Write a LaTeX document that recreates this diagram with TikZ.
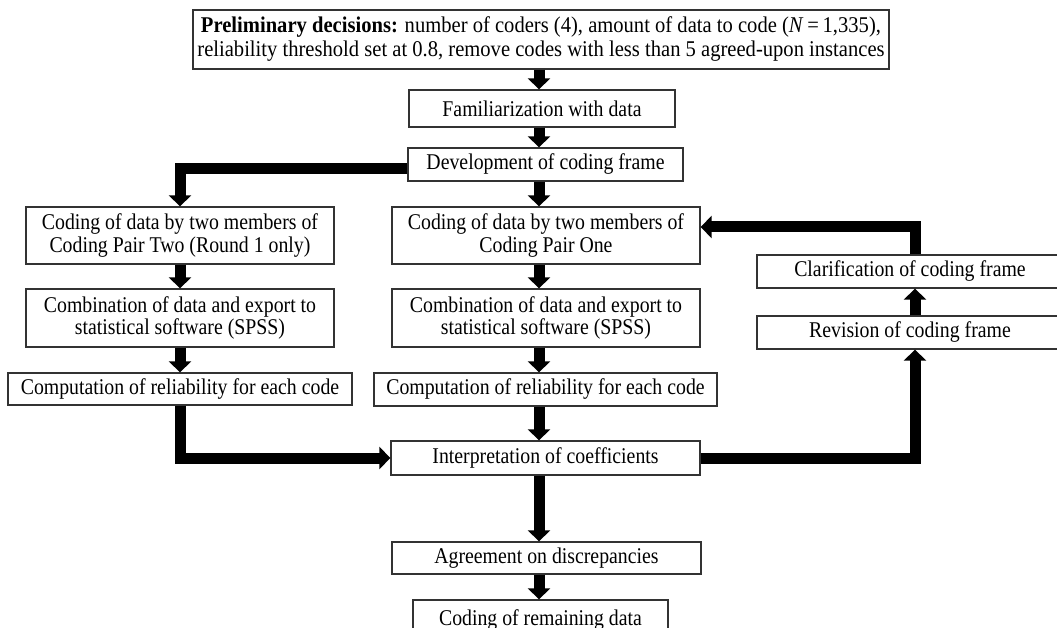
\documentclass[tikz,border=0pt]{standalone}
\usepackage{fontspec}
\setmainfont{Liberation Serif}
\newfontfamily\nf{Liberation Serif}[FakeStretch=0.88]
\newfontfamily\tf{Liberation Serif}[FakeStretch=0.915]
\usetikzlibrary{arrows.meta}
\begin{document}
\begin{tikzpicture}[x=1pt,y=-1pt,
  box/.style={draw=black!80, line width=1.3pt, fill=white, inner sep=0pt, align=center,
    font=\nf\fontsize{22.5}{22.5}\selectfont, text=black},
  arr/.style={line width=11pt, draw=black, -{Triangle[width=22pt,length=11pt]}},
]
\useasboundingbox (0,0) rectangle (1057,628);
\clip (0,0) rectangle (1057,628);
\coordinate (mx) at (539,0);
\coordinate (rx) at (915,0);

\node[box, minimum width=696pt, minimum height=59pt, font=\tf\fontsize{22.5}{24}\selectfont] (top) at (541,39.5)
  {\textbf{Preliminary decisions:} number of coders (4), amount of data to code (\textit{N}\,=\,1,335),\\
   reliability threshold set at 0.8, remove codes with less than 5 agreed-upon instances};
\node[box, minimum width=266pt, minimum height=37pt] (fam) at (542,108.5) {Familiarization with data};
\node[box, minimum width=275pt, minimum height=33pt] (dev) at (545.5,164.5) {Development of coding frame};

\node[box, minimum width=308pt, minimum height=57pt] (p2) at (180,235.5) {Coding of data by two members of\\Coding Pair Two (Round 1 only)};
\node[box, minimum width=308pt, minimum height=58pt] (c2) at (180,318) {Combination of data and export to\\statistical software (SPSS)};
\node[box, minimum width=344pt, minimum height=32pt] (r2) at (180,389) {Computation of reliability for each code};

\node[box, minimum width=308pt, minimum height=57pt] (p1) at (546,235.5) {Coding of data by two members of\\Coding Pair One};
\node[box, minimum width=308pt, minimum height=58pt] (c1) at (546,318) {Combination of data and export to\\statistical software (SPSS)};
\node[box, minimum width=343pt, minimum height=33pt] (r1) at (545.5,389.5) {Computation of reliability for each code};

\node[box, minimum width=309pt, minimum height=34pt] (interp) at (545.5,458) {Interpretation of coefficients};
\node[box, minimum width=309pt, minimum height=32pt] (agree) at (546.5,558) {Agreement on discrepancies};
\node[box, minimum width=255pt, minimum height=40pt] (remain) at (540.5,620) {Coding of remaining data};

\node[box, minimum width=306pt, minimum height=33pt] (clar) at (910,271.5) {Clarification of coding frame};
\node[box, minimum width=306pt, minimum height=33pt] (rev) at (910,332.5) {Revision of coding frame};

\draw[arr] (top.south -| mx) -- (fam.north -| mx);
\draw[arr] (fam.south -| mx) -- (dev.north -| mx);
\draw[arr] (dev.south -| mx) -- (p1.north -| mx);
\draw[arr] ([yshift=-4.5pt]dev.west) -| (p2.north);

\draw[arr] (p2.south) -- (c2.north);
\draw[arr] (c2.south) -- (r2.north);
\draw[arr] (r2.south) |- (interp.west);

\draw[arr] (p1.south -| mx) -- (c1.north -| mx);
\draw[arr] (c1.south -| mx) -- (r1.north -| mx);
\draw[arr] (r1.south -| mx) -- (interp.north -| mx);
\draw[arr] (interp.south -| mx) -- (agree.north -| mx);
\draw[arr] (agree.south -| mx) -- (remain.north -| mx);

\draw[arr] (interp.east) -| (rev.south -| rx);
\draw[arr] (rev.north -| rx) -- (clar.south -| rx);
\draw[arr] (clar.north -| rx) |- ([yshift=8.5pt]p1.east);
\end{tikzpicture}
\end{document}
